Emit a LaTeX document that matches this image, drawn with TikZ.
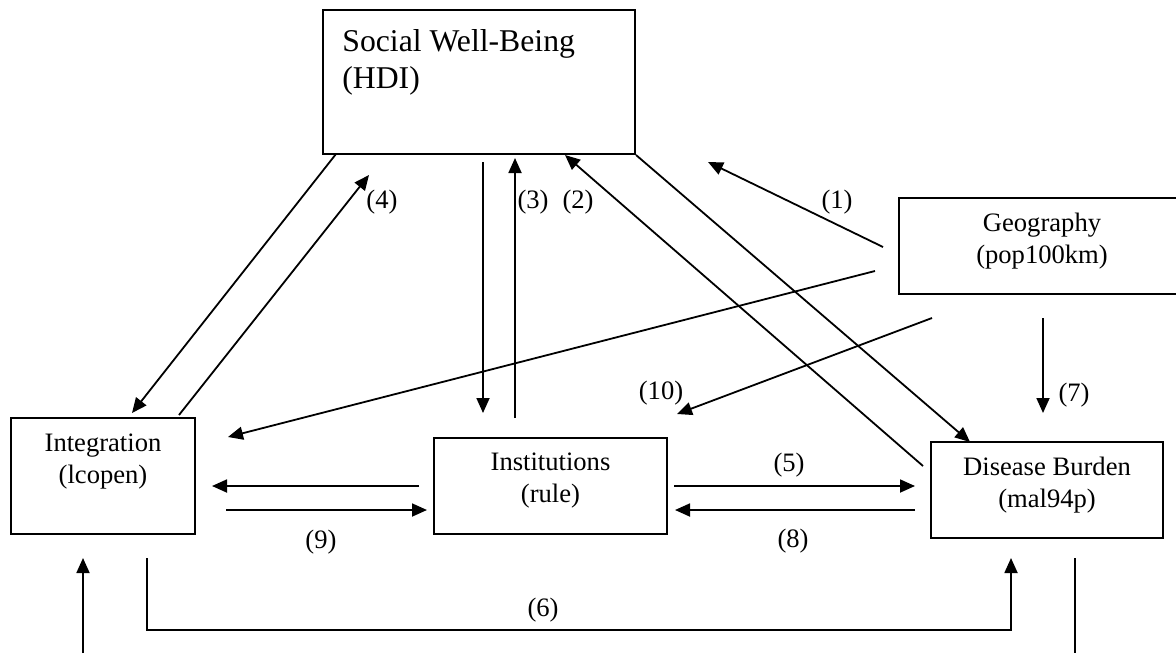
\documentclass[tikz,border=0pt]{standalone}
\usepackage{fontspec}
\setmainfont{Liberation Serif}
\usetikzlibrary{arrows.meta}

\begin{document}
\begin{tikzpicture}[x=0.5pt,y=-0.5pt,
  box/.style={rectangle,draw,line width=1pt,inner sep=0pt},
  boxtext/.style={font=\fontsize{13.3}{16}\selectfont,align=center,inner sep=0pt},
  toptext/.style={font=\fontsize{15.85}{18.5}\selectfont,align=left,inner sep=0pt},
  num/.style={font=\fontsize{13.3}{16}\selectfont,inner sep=0pt},
  arr/.style={-{Triangle[length=7.5pt,width=6.5pt]},line width=0.9pt},
  link/.style={line width=0.9pt},
]
\useasboundingbox (0,0) rectangle (1176,653);

% boxes
\node[box,minimum width=156pt,minimum height=72pt,
  label={[toptext,anchor=north west,xshift=10pt,yshift=-10pt]north west:{Social Well-Being\\(HDI)}}] (hdi) at (479,82) {};
\node[box,minimum width=143pt,minimum height=48pt,
  label={[boxtext,yshift=2.5pt]center:{Geography\\(pop100km)}}] (geo) at (1042,246) {};
\node[box,minimum width=92pt,minimum height=58pt,
  label={[boxtext,yshift=7.25pt]center:{Integration\\(lcopen)}}] (integ) at (103,476) {};
\node[box,minimum width=116.5pt,minimum height=48pt,
  label={[boxtext,yshift=2.5pt]center:{Institutions\\(rule)}}] (inst) at (550.5,486) {};
\node[box,minimum width=116pt,minimum height=48pt,
  label={[boxtext,yshift=2.25pt]center:{Disease Burden\\(mal94p)}}] (dis) at (1047,490) {};

% free ends of the connectors
\coordinate (g1s) at (883,247);   \coordinate (g1e) at (708,162);
\coordinate (gis) at (875,271);   \coordinate (gie) at (228,437);
\coordinate (g10s) at (932,318);  \coordinate (g10e) at (677,414);
\coordinate (g7s) at (1043,318);  \coordinate (g7e) at (1043,413);
\coordinate (h4s) at (336,154);   \coordinate (h4e) at (132,413);
\coordinate (i4s) at (179,415);   \coordinate (i4e) at (369,175);
\coordinate (h3s) at (483,162);   \coordinate (h3e) at (483,413);
\coordinate (i3s) at (515,418);   \coordinate (i3e) at (515,158);
\coordinate (d2s) at (923,466);   \coordinate (d2e) at (565,155);
\coordinate (d1e) at (970,442);
\coordinate (ii1s) at (419,486);  \coordinate (ii1e) at (212,486);
\coordinate (ii2s) at (226,510);  \coordinate (ii2e) at (427,510);
\coordinate (id5s) at (674,486);  \coordinate (id5e) at (915,486);
\coordinate (id8s) at (915,510);  \coordinate (id8e) at (675,510);
\coordinate (s6) at (147,558);    \coordinate (c6) at (1011,630);
\coordinate (e6) at (1011,558);
\coordinate (bls) at (83,653);    \coordinate (ble) at (83,558);
\coordinate (brs) at (1075,558);  \coordinate (bre) at (1075,653);

% connectors
\draw[arr] (g1s) -- (g1e);
\draw[arr] (gis) -- (gie);
\draw[arr] (g10s) -- (g10e);
\draw[arr] (g7s) -- (g7e);
\draw[arr] (h4s) -- (h4e);
\draw[arr] (i4s) -- (i4e);
\draw[arr] (h3s) -- (h3e);
\draw[arr] (i3s) -- (i3e);
\draw[arr] (d2s) -- (d2e);
\draw[arr] (hdi.south east) -- (d1e);
\draw[arr] (ii1s) -- (ii1e);
\draw[arr] (ii2s) -- (ii2e);
\draw[arr] (id5s) -- (id5e);
\draw[arr] (id8s) -- (id8e);
\draw[arr] (s6) |- (c6) -- (e6);
\draw[arr] (bls) -- (ble);
\draw[link] (brs) -- (bre);

% path numbers
\node[num] (n1) at (837,202) {(1)};
\node[num] (n2) at (578,202) {(2)};
\node[num] (n3) at (533,202) {(3)};
\node[num] (n4) at (382,202) {(4)};
\node[num] (n5) at (789,465) {(5)};
\node[num] (n6) at (543,610) {(6)};
\node[num] (n7) at (1074,395) {(7)};
\node[num] (n8) at (793,541) {(8)};
\node[num] (n9) at (321,542) {(9)};
\node[num] (n10) at (661,393) {(10)};
\end{tikzpicture}
\end{document}
